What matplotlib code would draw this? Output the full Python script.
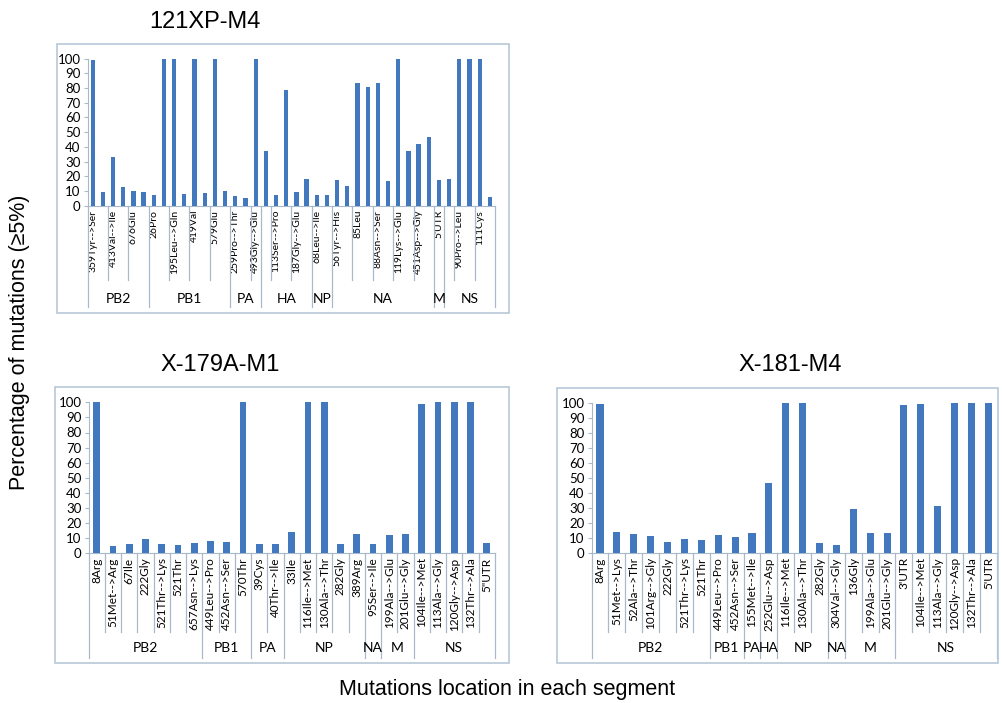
import matplotlib
matplotlib.use("Agg")
import matplotlib.pyplot as plt
from matplotlib.patches import Rectangle
from matplotlib.transforms import blended_transform_factory

# ---- data: 121XP-M4 (only every other category is labelled) ----
top_labels = ["359Tyr-->Ser", "", "413Val-->Ile", "", "676Glu", "",
              "26Pro", "", "195Leu-->Gln", "", "419Val", "", "579Glu", "",
              "259Pro-->Thr", "", "493Gly-->Glu",
              "", "113Ser-->Pro", "", "187Gly-->Glu", "",
              "68Leu-->Ile", "",
              "56Tyr-->His", "", "85Leu", "", "88Asn-->Ser", "", "119Lys-->Glu", "",
              "451Asp-->Gly", "",
              "5'UTR",
              "", "90Pro-->Leu", "", "111Cys", ""]
top_values = [99, 9, 33, 13, 10, 9,
              7, 100, 100, 8, 100, 8.5, 100, 10,
              6.5, 5.5, 100,
              37, 7.5, 79, 9, 18,
              7, 7,
              17.5, 13.5, 83.5, 81, 83.5, 17, 100, 37, 42, 47,
              17.5,
              18, 100, 100, 100, 6]
top_groups = ["PB2", "PB1", "PA", "HA", "NP", "NA", "M", "NS"]
top_group_sizes = [6, 8, 3, 5, 2, 10, 1, 5]

# ---- data: X-179A-M1 ----
bl_labels = ["8Arg", "51Met-->Arg", "67Ile", "222Gly", "521Thr-->Lys", "521Thr", "657Asn-->Lys",
             "449Leu-->Pro", "452Asn-->Ser", "570Thr",
             "39Cys", "40Thr-->Ile",
             "33Ile", "116Ile-->Met", "130Ala-->Thr", "282Gly", "389Arg",
             "95Ser-->Ile",
             "199Ala-->Glu", "201Glu-->Gly",
             "104Ile-->Met", "113Ala-->Gly", "120Gly-->Asp", "132Thr-->Ala", '5"UTR']
bl_values = [100, 5, 6, 9.5, 6, 5.5, 7,
             8, 7.5, 100,
             6, 6,
             14, 100, 100, 6, 13,
             6,
             12, 12.5,
             99, 100, 100, 100, 6.5]
bl_groups = ["PB2", "PB1", "PA", "NP", "NA", "M", "NS"]
bl_group_sizes = [7, 3, 2, 5, 1, 2, 5]

# ---- data: X-181-M4 ----
br_labels = ["8Arg", "51Met-->Lys", "52Ala-->Thr", "101Arg-->Gly", "222Gly", "521Thr-->Lys", "521Thr",
             "449Leu-->Pro", "452Asn-->Ser",
             "155Met-->Ile",
             "252Glu-->Asp",
             "116Ile-->Met", "130Ala-->Thr", "282Gly",
             "304Val-->Gly",
             "136Gly", "199Ala-->Glu", "201Glu-->Gly",
             "3'UTR", "104Ile-->Met", "113Ala-->Gly", "120Gly-->Asp", "132Thr-->Ala", "5'UTR"]
br_values = [99, 14, 12.5, 11.5, 7, 9, 8.5,
             12, 10.5,
             13.5,
             46.5,
             100, 100, 6.5,
             5.5,
             29, 13.5, 13.5,
             98.5, 99, 31, 100, 100, 100]
br_groups = ["PB2", "PB1", "PA", "HA", "NP", "NA", "M", "NS"]
br_group_sizes = [7, 2, 1, 1, 3, 1, 3, 6]

W, H = 1003, 703
BAR = "#4178be"
LINE = "#a9b9cc"
BOX = "#b7c7d7"
TICK_FONT = ["Lato", "DejaVu Sans"]
HEAD_FONT = ["Liberation Sans", "DejaVu Sans"]

fig = plt.figure(figsize=(W / 100, H / 100), dpi=100)


def fy(py):
    return 1 - py / H


def draw_chart(title, labels, values, groups, sizes, plot_box, frame, title_xy,
               inner_bottom, group_text_y, outer_bottom, label_size, line_step):
    left, right, y0, y100 = plot_box
    fig.add_artist(Rectangle((frame[0] / W, fy(frame[3])), (frame[2] - frame[0]) / W,
                             (frame[3] - frame[1]) / H, transform=fig.transFigure,
                             fill=False, edgecolor=BOX, linewidth=1.2))
    fig.text(title_xy[0] / W, fy(title_xy[1]), title, ha="center", va="center",
             fontsize=17, family=HEAD_FONT)

    ax = fig.add_axes([left / W, fy(y0), (right - left) / W, (y0 - y100) / H])
    n = len(values)
    x = list(range(n))
    ax.bar(x, values, width=0.42, color=BAR, zorder=3)
    ax.set_xlim(-0.5, n - 0.5)
    ax.set_ylim(0, 100)
    ax.set_yticks(range(0, 101, 10))
    ax.tick_params(axis="y", length=3, width=0.8, color=LINE, pad=2, labelsize=9.5)
    for t in ax.get_yticklabels():
        t.set_family(TICK_FONT)
    ax.set_xticks(x)
    ax.set_xticklabels(labels, rotation=90, fontsize=label_size, family=TICK_FONT)
    ax.tick_params(axis="x", length=0, pad=3)
    for s in ["top", "right"]:
        ax.spines[s].set_visible(False)
    ax.spines["left"].set_color(LINE)
    ax.spines["bottom"].set_color(LINE)

    trans = blended_transform_factory(ax.transData, fig.transFigure)
    bounds = [0]
    for s in sizes:
        bounds.append(bounds[-1] + s)
    group_edges = set(bounds)
    for i in range(n + 1):
        if i in group_edges:
            bottom = outer_bottom
        elif i % line_step == 0:
            bottom = inner_bottom
        else:
            continue
        ax.plot([i - 0.5, i - 0.5], [fy(y0), fy(bottom)], color=LINE, lw=0.9,
                transform=trans, clip_on=False)
    for g, a, b in zip(groups, bounds[:-1], bounds[1:]):
        ax.text((a + b - 1) / 2, fy(group_text_y), g, ha="center", va="center",
                fontsize=10, family=TICK_FONT, transform=trans)
    return ax


draw_chart("121XP-M4", top_labels, top_values, top_groups, top_group_sizes,
           (87.6, 495.0, 205.7, 58.7), (57, 44, 509, 313), (205, 22),
           280, 299, 307, 7.5, 2)
draw_chart("X-179A-M1", bl_labels, bl_values, bl_groups, bl_group_sizes,
           (88.6, 494.8, 553.3, 402.3), (55, 387, 509, 663), (220, 365),
           632, 648, 658, 8.5, 1)
draw_chart("X-181-M4", br_labels, br_values, br_groups, br_group_sizes,
           (591.6, 996.8, 553.0, 402.7), (557, 388, 998, 663), (790, 365),
           632, 648, 658, 8.5, 1)

fig.text(20 / W, fy(342), "Percentage of mutations (\u22655%)", rotation=90,
         ha="center", va="center", fontsize=15.5, family=HEAD_FONT)
fig.text(507 / W, fy(689), "Mutations location in each segment", ha="center",
         va="center", fontsize=15.5, family=HEAD_FONT)

fig.savefig("out.png", dpi=100)
